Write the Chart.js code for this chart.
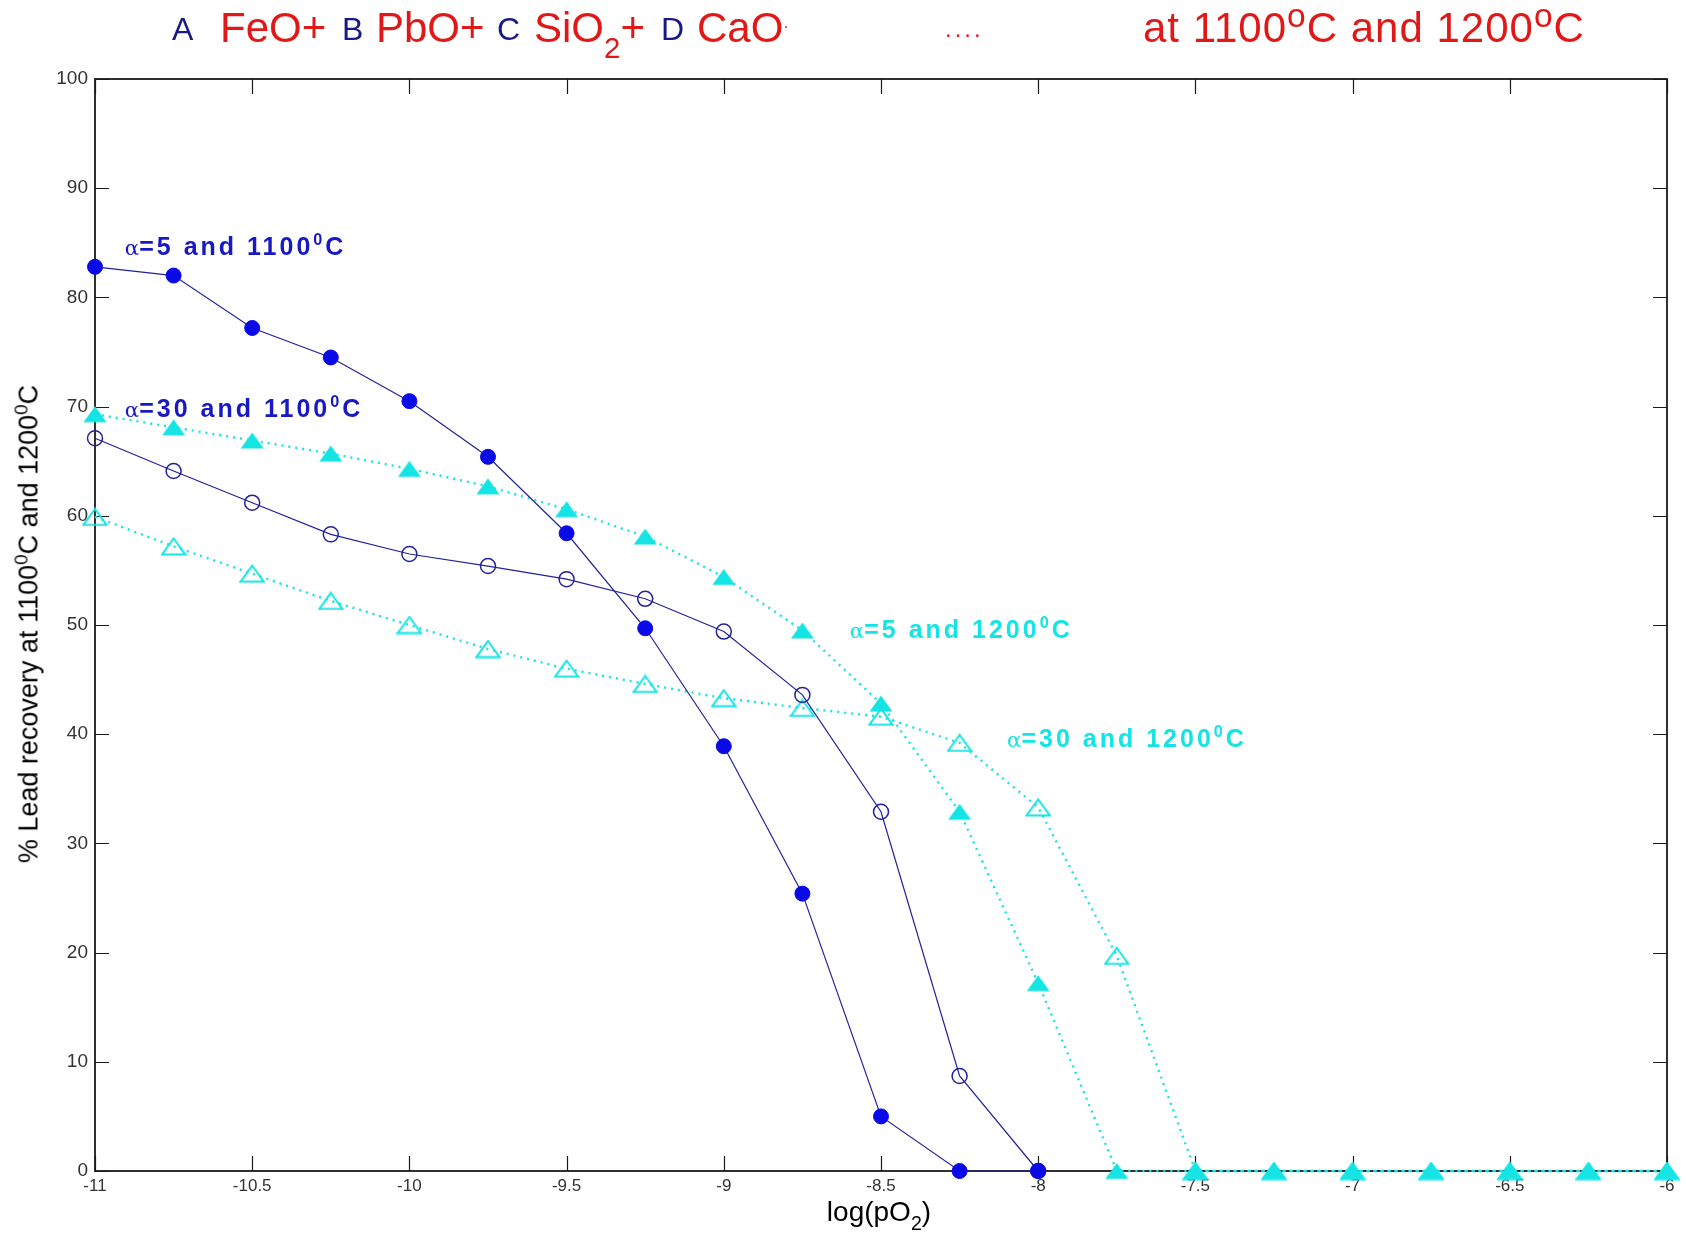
<!DOCTYPE html>
<html>
<head>
<meta charset="utf-8">
<script src="https://cdn.jsdelivr.net/npm/chart.js@4.4.1/dist/chart.umd.min.js"></script>
<style>
  body { margin: 0; background: #fff; }
  #wrap { position: relative; width: 1686px; height: 1236px; font-family: "Liberation Sans", Arial, sans-serif; overflow: hidden; }
  #chart { position: absolute; left: 0; top: 0; }
  .lbl { position: absolute; white-space: nowrap; line-height: 1; }
  .lbl sup, .lbl sub { font-size: 0.7em; line-height: 0; }
  .alpha { font-weight: normal; font-family: "DejaVu Serif", serif; font-size: 0.85em; letter-spacing: 0; }
</style>
</head>
<body>
<div id="wrap"><canvas id="chart" width="1686" height="1236"></canvas></div>
<script>
// log(pO2) values, step 0.25
const logPO2 = [-11, -10.75, -10.5, -10.25, -10, -9.75, -9.5, -9.25, -9, -8.75, -8.5,
                -8.25, -8, -7.75, -7.5, -7.25, -7, -6.75, -6.5, -6.25, -6];

// % lead recovery
const alpha5_1100  = [82.8, 82.0, 77.2, 74.5, 70.5, 65.4, 58.4, 49.7, 38.9, 25.4, 5.0, 0, 0];
const alpha30_1100 = [67.1, 64.1, 61.2, 58.3, 56.5, 55.4, 54.2, 52.4, 49.4, 43.6, 32.9, 8.7, 0];
const alpha5_1200  = [69.3, 68.1, 66.9, 65.7, 64.3, 62.7, 60.6, 58.1, 54.4, 49.5, 42.8, 32.9, 17.2,
                      0, 0, 0, 0, 0, 0, 0, 0];
const alpha30_1200 = [59.9, 57.2, 54.7, 52.2, 50.0, 47.8, 46.0, 44.6, 43.3, 42.4, 41.6, 39.2, 33.3,
                      19.7, 0, 0, 0, 0, 0, 0, 0];

const yTicks = [0, 10, 20, 30, 40, 50, 60, 70, 80, 90, 100];

const BLUE_LINE = '#22229c';
const BLUE_MARK = '#0a0ae6';
const CYAN = '#14e4e4';

function pts(vals) {
    return vals.map((v, i) => ({ x: logPO2[i], y: v }));
}

function triangle(filled) {
    const c = document.createElement('canvas');
    c.width = 26; c.height = 19;
    const g = c.getContext('2d');
    g.beginPath();
    g.moveTo(13, 1.5); g.lineTo(24.5, 17.5); g.lineTo(1.5, 17.5); g.closePath();
    if (filled) { g.fillStyle = CYAN; g.fill(); }
    else { g.strokeStyle = CYAN; g.lineWidth = 2; g.stroke(); }
    return c;
}

// frame + inward ticks on all four sides
const frame = {
    id: 'frame',
    beforeDatasetsDraw(chart) {
        const { ctx, chartArea: a, scales: { x, y } } = chart;
        ctx.save();
        ctx.strokeStyle = '#1a1a1a';
        ctx.lineWidth = 1.8;
        ctx.strokeRect(a.left, a.top, a.right - a.left, a.bottom - a.top);
        ctx.lineWidth = 1.2;
        ctx.beginPath();
        x.ticks.forEach(t => {
            const px = Math.round(x.getPixelForValue(t.value)) + 0.5;
            ctx.moveTo(px, a.bottom); ctx.lineTo(px, a.bottom - 15);
            ctx.moveTo(px, a.top); ctx.lineTo(px, a.top + 15);
        });
        y.ticks.forEach(t => {
            const py = Math.round(y.getPixelForValue(t.value)) + 0.5;
            ctx.moveTo(a.left, py); ctx.lineTo(a.left + 14, py);
            ctx.moveTo(a.right, py); ctx.lineTo(a.right - 14, py);
        });
        ctx.stroke();
        ctx.restore();
    }
};

const chart = new Chart(document.getElementById('chart'), {
    type: 'line',
    data: {
        datasets: [
            { data: pts(alpha5_1100), borderColor: BLUE_LINE, borderWidth: 1.2,
              pointStyle: 'circle', pointRadius: 7.5, pointBackgroundColor: BLUE_MARK,
              pointBorderColor: BLUE_MARK, pointBorderWidth: 1 },
            { data: pts(alpha30_1100), borderColor: BLUE_LINE, borderWidth: 1.2,
              pointStyle: 'circle', pointRadius: 7.5, pointBackgroundColor: 'rgba(0,0,0,0)',
              pointBorderColor: BLUE_LINE, pointBorderWidth: 1.5 },
            { data: pts(alpha5_1200), borderColor: CYAN, borderWidth: 2.4, borderDash: [2, 5],
              pointStyle: triangle(true) },
            { data: pts(alpha30_1200), borderColor: CYAN, borderWidth: 2.4, borderDash: [2, 5],
              pointStyle: triangle(false) }
        ]
    },
    options: {
        responsive: false,
        animation: false,
        clip: false,
        layout: { padding: { top: 79, right: 19, left: 0, bottom: 0 } },
        plugins: { legend: { display: false }, tooltip: { enabled: false } },
        elements: { line: { tension: 0, fill: false } },
        scales: {
            x: {
                type: 'linear', min: -11, max: -6,
                grid: { display: false, drawTicks: false }, border: { display: false },
                ticks: { stepSize: 0.5, autoSkip: false, padding: 5, color: '#333',
                         font: { family: 'Liberation Sans', size: 17 },
                         callback: v => String(v) },
                afterFit: s => { s.height = 65; }
            },
            y: {
                min: 0, max: 100,
                grid: { display: false, drawTicks: false }, border: { display: false },
                afterBuildTicks: s => { s.ticks = yTicks.map(v => ({ value: v })); },
                ticks: { padding: 7, color: '#333',
                         font: { family: 'Liberation Sans', size: 19 },
                         callback: v => String(v) },
                afterFit: s => { s.width = 95; }
            }
        }
    },
    plugins: [frame]
});

// text helpers (real HTML text)
const wrap = document.getElementById('wrap');
function place(html, x, base, size, color, extra) {
    const d = document.createElement('div');
    d.className = 'lbl';
    d.innerHTML = html;
    d.style.left = x + 'px';
    d.style.top = (base - 0.8465 * size) + 'px';
    d.style.fontSize = size + 'px';
    d.style.color = color;
    Object.assign(d.style, extra || {});
    wrap.appendChild(d);
    return d;
}

// title line
const RED = '#e01818', NAVY = '#1a1a86';
const degT = '<sup style="font-size:0.8em;vertical-align:0.45em">o</sup>';
place('A', 172, 40, 32, NAVY);
place('FeO+', 220, 43, 42, RED);
place('B', 342, 40, 32, NAVY);
place('PbO+', 376, 43, 42, RED);
place('C', 497, 40, 32, NAVY);
place('SiO<sub style="vertical-align:-0.55em">2</sub>+', 534, 43, 42, RED);
place('D', 661, 40, 32, NAVY);
place('CaO<span style="font-size:0.4em;vertical-align:0.6em">·</span>', 697, 43, 42, RED);
place('....', 945, 37, 24, RED, { letterSpacing: '3px' });
place('at 1100' + degT + 'C and 1200' + degT + 'C', 1143, 43, 42, RED, { letterSpacing: '1px' });

// axis titles
place('log(pO<sub style="vertical-align:-0.45em">2</sub>)', 879, 1222, 28, '#000',
      { transform: 'translateX(-50%)' });
place('% Lead recovery at 1100<sup>0</sup>C and 1200<sup>0</sup>C', 29, 624, 27, '#000',
      { left: '29px', top: '624px', transform: 'translate(-50%,-50%) rotate(-90deg)' });

// curve annotations anchored in data coordinates
const deg = '<sup style="font-size:0.65em;vertical-align:0.6em">0</sup>';
const notes = [
    { html: '<span class="alpha">α</span>=5 and 1100' + deg + 'C',  x: -10.905, y: 83.9, color: '#1818c4' },
    { html: '<span class="alpha">α</span>=30 and 1100' + deg + 'C', x: -10.905, y: 69.0, color: '#1818c4' },
    { html: '<span class="alpha">α</span>=5 and 1200' + deg + 'C',  x: -8.599,  y: 48.8, color: CYAN },
    { html: '<span class="alpha">α</span>=30 and 1200' + deg + 'C', x: -8.099,  y: 38.8, color: CYAN }
];
notes.forEach(n => {
    place(n.html, chart.scales.x.getPixelForValue(n.x), chart.scales.y.getPixelForValue(n.y),
          25, n.color, { fontWeight: 'bold', letterSpacing: '3px' });
});
</script>
</body>
</html>
